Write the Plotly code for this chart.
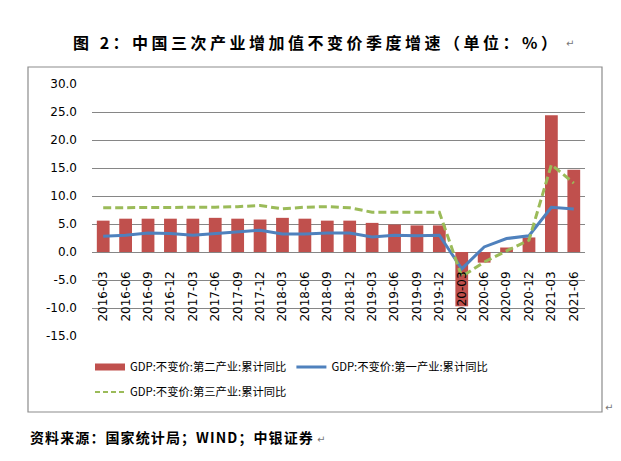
import plotly.graph_objects as go

# ---------------- data ----------------
quarters = ['2016-03', '2016-06', '2016-09', '2016-12', '2017-03', '2017-06', '2017-09', '2017-12',
            '2018-03', '2018-06', '2018-09', '2018-12', '2019-03', '2019-06', '2019-09', '2019-12',
            '2020-03', '2020-06', '2020-09', '2020-12', '2021-03', '2021-06']
secondary = [5.6, 5.95, 5.95, 5.95, 5.95, 6.1, 5.95, 5.8, 6.1, 5.95, 5.6, 5.6,
             5.2, 4.9, 4.75, 4.75, -9.7, -1.9, 0.8, 2.6, 24.4, 14.7]
primary = [2.8, 3.0, 3.4, 3.3, 3.0, 3.3, 3.6, 3.9, 3.2, 3.2, 3.4, 3.4,
           2.7, 3.0, 2.9, 3.0, -3.0, 0.9, 2.4, 2.9, 8.0, 7.7]
tertiary = [7.9, 7.9, 7.9, 8.0, 7.9, 8.0, 8.1, 8.3, 7.7, 8.0, 8.1, 7.9,
            7.1, 7.1, 7.1, 7.1, -4.4, -1.8, 0.2, 2.1, 15.6, 12.3]
y_tickvals = [30, 25, 20, 15, 10, 5, 0, -5, -10, -15]
y_ticktext = ['30.0', '25.0', '20.0', '15.0', '10.0', '5.0', '0.0', '-5.0', '-10.0', '-15.0']

name_sec = 'GDP:不变价:第二产业:累计同比'
name_pri = 'GDP:不变价:第一产业:累计同比'
name_ter = 'GDP:不变价:第三产业:累计同比'
title_text = '图 2：中国三次产业增加值不变价季度增速（单位：%）'
source_text = '资料来源：国家统计局；WIND；中银证券'

# ---------------- layout geometry (pixels) ----------------
W, H = 621, 461
L, R, T, B = 92, 36, 84, 125
pw, ph = W - L - R, H - T - B


def px_x(x):
    return (x - L) / pw


def px_y(y):
    return (H - B - y) / ph


RED = '#C0504D'
BLUE = '#4F81BD'
GREEN = '#9BBB59'
GRID = '#868686'
CJK = 'Microsoft YaHei, Noto Sans CJK SC, sans-serif'

fig = go.Figure()
fig.add_trace(go.Bar(x=quarters, y=secondary, name=name_sec, marker_color=RED,
                     marker_line_width=0, showlegend=False))
fig.add_trace(go.Scatter(x=quarters, y=primary, name=name_pri, mode='lines',
                         line=dict(color=BLUE, width=3), showlegend=False))
fig.add_trace(go.Scatter(x=quarters, y=tertiary, name=name_ter, mode='lines',
                         line=dict(color=GREEN, width=3, dash='8px,4px'), showlegend=False))

# legend entries
fig.add_trace(go.Scatter(x=[None], y=[None], name=name_sec, mode='lines',
                         line=dict(color=RED, width=7), legend='legend'))
fig.add_trace(go.Scatter(x=[None], y=[None], name=name_pri, mode='lines',
                         line=dict(color=BLUE, width=3), legend='legend'))
fig.add_trace(go.Scatter(x=[None], y=[None], name=name_ter, mode='lines',
                         line=dict(color=GREEN, width=2, dash='5px,3px'), legend='legend2'))

legend_common = dict(orientation='h', xanchor='left', yanchor='middle',
                     font=dict(family=CJK, size=11.3, color='#000000'),
                     bgcolor='rgba(0,0,0,0)', borderwidth=0, itemwidth=30)

fig.update_layout(
    width=W, height=H,
    margin=dict(l=L, r=R, t=T, b=B, pad=0),
    paper_bgcolor='white', plot_bgcolor='white',
    bargap=0.43,
    font=dict(family='DejaVu Sans, sans-serif', size=12, color='#000000'),
    xaxis=dict(type='category', anchor='free', position=1/3, showgrid=False,
               showline=False, ticks='', tickangle=-90, ticklabelstandoff=16,
               tickfont=dict(size=12, family='DejaVu Sans, sans-serif'),
               range=[-0.5, len(quarters) - 0.5]),
    yaxis=dict(range=[-15, 30], tickvals=y_tickvals, ticktext=y_ticktext,
               showgrid=True, gridcolor=GRID, gridwidth=1,
               zeroline=True, zerolinecolor=GRID, zerolinewidth=1,
               showline=False, ticks='', ticklabelstandoff=14,
               tickfont=dict(size=12, family='DejaVu Sans, sans-serif')),
    legend=dict(x=px_x(90), y=px_y(367), **legend_common),
    legend2=dict(x=px_x(90), y=px_y(392), **legend_common),
    shapes=[dict(type='rect', xref='paper', yref='paper',
                 x0=px_x(28), x1=px_x(602), y0=px_y(412), y1=px_y(67),
                 line=dict(color='#8C8C8C', width=1.2), fillcolor='rgba(0,0,0,0)', layer='below')],
    annotations=[
        dict(text='<b><span style="letter-spacing:3.5px">' + title_text + '</span></b>',
             xref='paper', yref='paper', x=px_x(316), y=px_y(42), xanchor='center', yanchor='middle',
             showarrow=False, font=dict(family='Noto Sans CJK SC, sans-serif', size=16, color='#000000')),
        dict(text='↵', xref='paper', yref='paper', x=px_x(564), y=px_y(44), xanchor='left', yanchor='middle',
             showarrow=False, font=dict(family='DejaVu Sans', size=10, color='#777777')),
        dict(text='<b><span style="letter-spacing:1.1px">' + source_text + '</span></b>',
             xref='paper', yref='paper', x=px_x(28), y=px_y(437), xanchor='left', yanchor='middle',
             showarrow=False, font=dict(family='Noto Sans CJK SC, sans-serif', size=14, color='#000000')),
        dict(text='↵', xref='paper', yref='paper', x=px_x(315), y=px_y(440), xanchor='left', yanchor='middle',
             showarrow=False, font=dict(family='DejaVu Sans', size=10, color='#777777')),
        dict(text='↵', xref='paper', yref='paper', x=px_x(603), y=px_y(408), xanchor='left', yanchor='middle',
             showarrow=False, font=dict(family='DejaVu Sans', size=10, color='#777777')),
    ],
)

fig.write_html('out.html')
